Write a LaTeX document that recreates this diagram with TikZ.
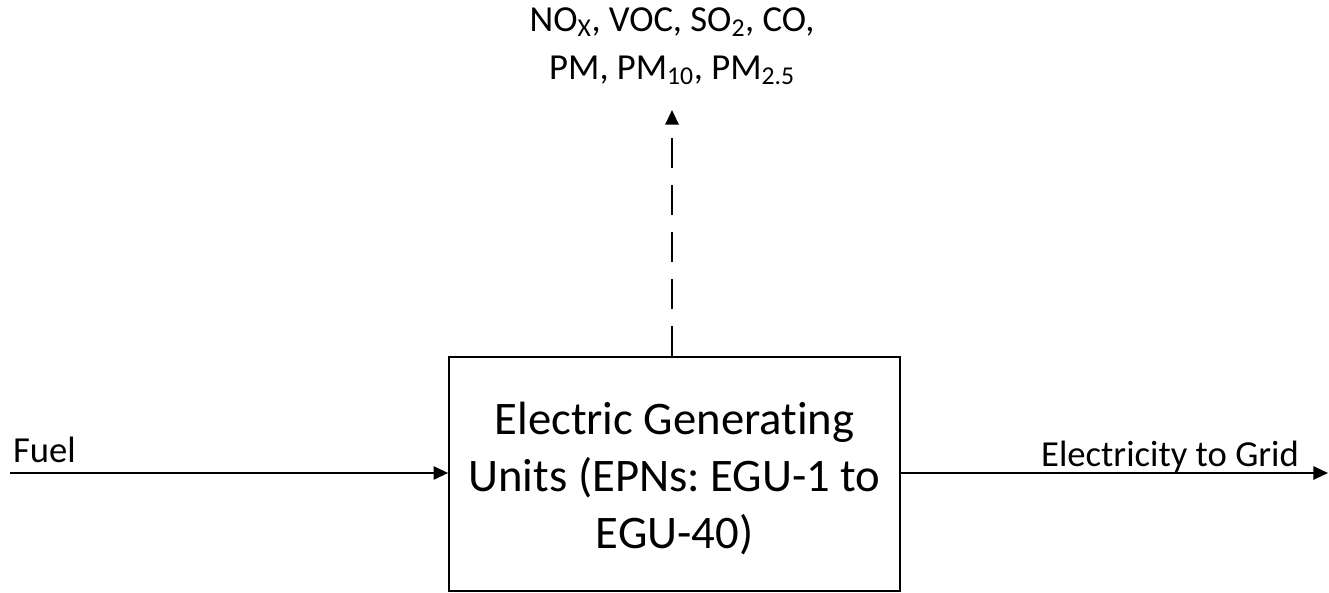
\documentclass[tikz,border=0pt]{standalone}
\usepackage{fontspec}
\setmainfont{Carlito}[Ligatures={NoCommon,NoDiscretionary}]
\usetikzlibrary{positioning, arrows.meta}
\frenchspacing

\begin{document}
\begin{tikzpicture}[
    x = 0.75pt, y = -0.75pt,
    > = {Triangle[length=11pt, width=10pt]},
    line width = 1.5pt,
    unit/.style={rectangle, draw, minimum width=338pt, minimum height=175.5pt},
    unittext/.style={align=center, font=\fontsize{35}{42.5}\selectfont},
    flowlabel/.style={font=\fontsize{27.5}{36}\selectfont, inner sep=0pt}
]
\useasboundingbox (0,0) rectangle (1329,593);

% --- Main unit ---
\node[unit] (egu) at (674.5,474) {};
\node[unittext] (egutext) at ([yshift=-3.5pt]egu.center) {Electric Generating\\Units (EPNs: EGU-1 to\\EGU-40)};

% --- Free ends of the flows ---
\coordinate (fuel) at (10,473);
\coordinate (grid) at (1328,473);
\coordinate (stack) at (672,110);

% --- Emissions text ---
\node[flowlabel, align=center] (emis) at (672,46) {NO\textsubscript{X}, VOC, SO\textsubscript{2}, CO,\\PM, PM\textsubscript{10}, PM\textsubscript{2.5}};

% --- Flow labels ---
\node[flowlabel, anchor=base west] (fuellbl) at (12,462) {Fuel};
\node[flowlabel, anchor=base] (gridlbl) at (1170,466) {Electricity to Grid};

% --- Flows ---
\draw[->] (fuel) -- (egu.west |- fuel);
\draw[->] (egu.east |- grid) -- (grid);
\draw[->, dash pattern=on 22.5pt off 12.75pt] (egu.north -| stack) -- (stack);

\end{tikzpicture}
\end{document}
